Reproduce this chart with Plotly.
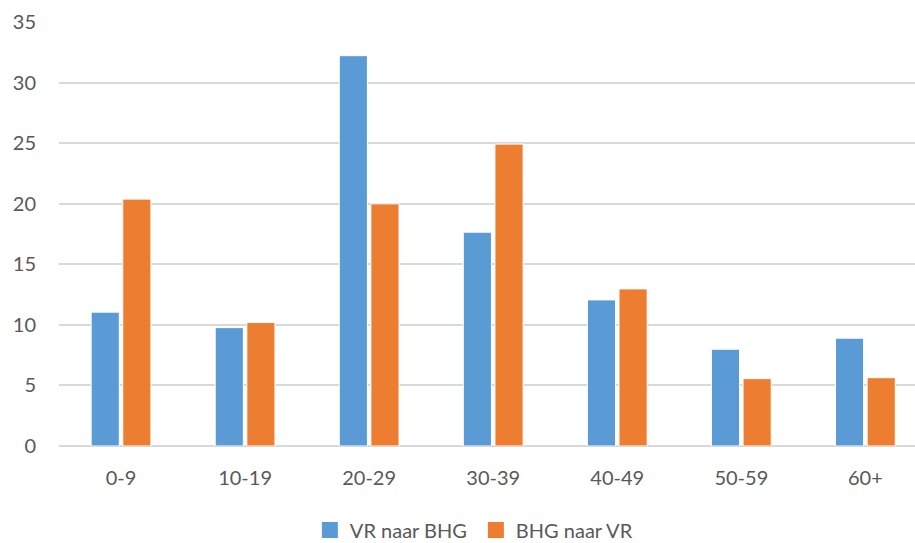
import plotly.graph_objects as go

categories = ["0-9", "10-19", "20-29", "30-39", "40-49", "50-59", "60+"]
vr_naar_bhg = [11.05, 9.77, 32.22, 17.65, 12.06, 7.99, 8.9]
bhg_naar_vr = [20.38, 10.19, 19.99, 24.92, 12.97, 5.56, 5.64]
y_ticks = [0, 5, 10, 15, 20, 25, 30, 35]
series_names = ["VR naar BHG", "BHG naar VR"]
series_colors = ["#5B9BD5", "#ED7D31"]

font_family = "Lato, 'Open Sans', sans-serif"

fig = go.Figure()
for name, vals, col in zip(series_names, [vr_naar_bhg, bhg_naar_vr], series_colors):
    fig.add_trace(go.Bar(x=list(range(len(categories))), y=vals, name=name,
                         marker=dict(color=col, line=dict(color="white", width=1)),
                         showlegend=False, legendgroup=name))
# legend entries with larger square swatches
for name, col in zip(series_names, series_colors):
    fig.add_trace(go.Scatter(x=[None], y=[None], mode="markers", name=name,
                             legendgroup=name,
                             marker=dict(symbol="square", size=16, color=col)))

fig.update_layout(
    width=915, height=543,
    margin=dict(l=59, r=0, t=22, b=97),
    paper_bgcolor="white", plot_bgcolor="white",
    barmode="group", bargap=0.49, bargroupgap=0.11,
    font=dict(family=font_family, size=20, color="#595959"),
    legend=dict(orientation="h", x=0.487, xanchor="center",
                yref="container", y=(543 - 530) / 543, yanchor="middle",
                font=dict(size=20, color="#595959"), itemwidth=30, traceorder="normal",
                entrywidth=121),
    showlegend=True,
)
fig.update_xaxes(
    tickmode="array", tickvals=list(range(len(categories))), ticktext=categories,
    range=[-0.5, 6.4], showgrid=False, zeroline=False, showline=False,
    ticks="", ticklabelstandoff=18, automargin=False,
)
fig.update_yaxes(
    range=[0, 35], tickvals=y_ticks, showgrid=True, gridcolor="#D9D9D9", gridwidth=1.5,
    zeroline=True, zerolinecolor="#D9D9D9", zerolinewidth=1.5, showline=False, ticks="",
    ticklabelstandoff=22, automargin=False,
)

fig.write_html("out.html", config={"displayModeBar": False},
               post_script="document.body.style.margin='0';")
